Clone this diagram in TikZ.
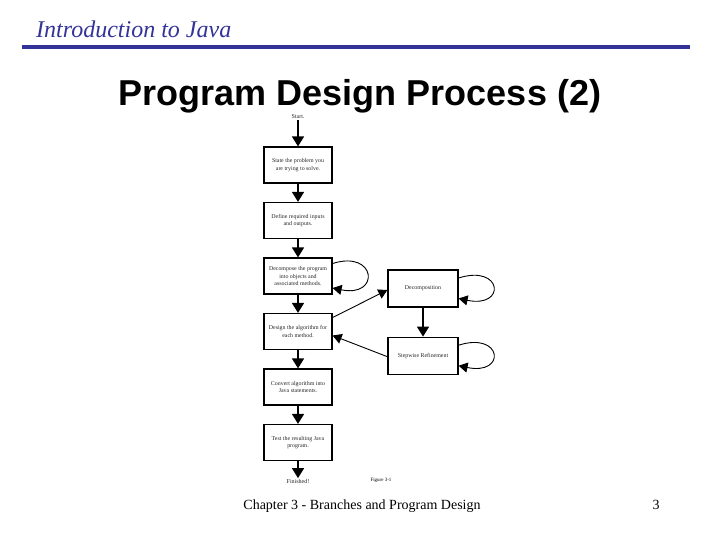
\documentclass[tikz,border=0pt]{standalone}
\usepackage{fontspec}
\setmainfont{Liberation Serif}
\setsansfont{Liberation Sans}
\usetikzlibrary{positioning, arrows.meta, calc}
\definecolor{javablue}{RGB}{51,51,153}

\begin{document}
\begin{tikzpicture}[
  x=1pt, y=-1pt,
  node distance=18.3pt,
  box/.style={draw, line width=1.2pt, minimum width=68pt, minimum height=36pt, inner sep=1pt, align=center, text=black!85, font=\fontsize{5.9}{7.2}\selectfont},
  sidebox/.style={box, minimum width=70pt, minimum height=37pt},
  lbl/.style={inner sep=1pt, text=black!85, font=\fontsize{6}{7}\selectfont},
  arr/.style={-{Triangle[length=10pt, width=12pt]}, line width=1.6pt},
  loop/.style={-{Triangle[length=9pt, width=10pt]}, line width=0.9pt}
]
  \useasboundingbox (0,0) rectangle (720,540);

  % heading of the slide
  \node[anchor=base west, inner sep=0, text=javablue, font=\fontsize{24}{28}\selectfont\itshape] (course) at (36,38) {Introduction to Java};
  \draw[javablue, line width=4pt] (22,47.5) -- (690,47.5);
  \node[anchor=base, font=\fontsize{36}{40}\selectfont\sffamily\bfseries] (title) at (360,106) {Program Design Process (2)};

  % main flow
  \node[lbl] (start) at (298,117) {Start.};
  \node[box] (state) at (298,165) {State the problem you\\are trying to solve.};
  \node[box, below=of state] (define) {Define required inputs\\and outputs.};
  \node[box, below=of define] (decompose) {Decompose the program\\into objects and\\associated methods.};
  \node[box, below=of decompose] (design) {Design the algorithm for\\each method.};
  \node[box, below=of design] (convert) {Convert algorithm into\\Java statements.};
  \node[box, below=of convert] (test) {Test the resulting Java\\program.};
  \node[lbl, below=17pt of test] (finished) {Finished!};

  % side boxes
  \node[sidebox] (decomp) at (423,288.5) {Decomposition};
  \node[sidebox, below=29pt of decomp] (stepwise) {Stepwise Refinement};

  \draw[arr] (start) -- (state);
  \draw[arr] (state) -- (define);
  \draw[arr] (define) -- (decompose);
  \draw[arr] (decompose) -- (design);
  \draw[arr] (design) -- (convert);
  \draw[arr] (convert) -- (test);
  \draw[arr] (test) -- (finished);
  \draw[arr] (decomp) -- (stepwise);

  \draw[loop] ([yshift=14pt]design.east) -- ([yshift=-1.5pt]decomp.west);
  \draw[loop] ([yshift=-1pt]stepwise.west) -- ([yshift=-4pt]design.east);

  \draw[loop] ([yshift=12.5pt]decompose.east) .. controls +(44,-14) and +(48,10) .. ([yshift=-12pt]decompose.east);
  \draw[loop] ([yshift=10.5pt]decomp.east) .. controls +(44,-14) and +(48,10) .. ([yshift=-10pt]decomp.east);
  \draw[loop] ([yshift=10.5pt]stepwise.east) .. controls +(44,-14) and +(48,10) .. ([yshift=-10pt]stepwise.east);

  \node[font=\fontsize{5}{6}\selectfont] (figno) at (381,480) {Figure 3-1};

  % footer
  \node[anchor=base, font=\fontsize{14}{16}\selectfont] (chapter) at (362,509) {Chapter 3 - Branches and Program Design};
  \node[anchor=base, font=\fontsize{14}{16}\selectfont] (page) at (656,509) {3};
\end{tikzpicture}
\end{document}
